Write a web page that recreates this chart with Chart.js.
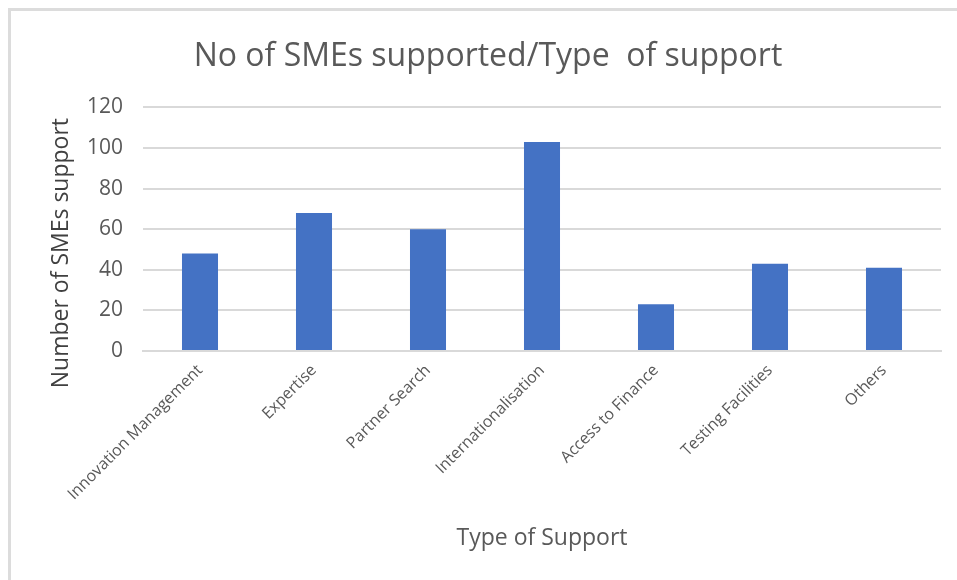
<!DOCTYPE html>
<html><head><meta charset="utf-8">
<script src="https://cdn.jsdelivr.net/npm/chart.js@4/dist/chart.umd.min.js"></script>
<style>
html,body{margin:0;padding:0;background:#fff;}
#wrap{position:relative;width:957px;height:580px;}
#frame{position:absolute;left:8px;top:8px;width:960px;height:600px;border-left:3px solid #dcdcdc;border-top:3px solid #dcdcdc;pointer-events:none;}
canvas{position:absolute;left:0;top:0;}
</style></head>
<body>
<div id="wrap"><canvas id="c" width="957" height="580"></canvas><div id="frame"></div></div>
<script>
const categories = ["Innovation Management","Expertise","Partner Search","Internationalisation","Access to Finance","Testing Facilities","Others"];
const smeCounts = [48, 68, 60, 103, 23, 43, 41];
const yTicks = [0, 20, 40, 60, 80, 100, 120];
const chartTitle = "No of SMEs supported/Type  of support";
const yTitle = "Number of SMEs support";
const xTitle = "Type of Support";

const FONT = "'Open Sans', sans-serif";
const GRAY = "#595959";
new Chart(document.getElementById('c'), {
  type: 'bar',
  data: { labels: categories, datasets: [{ data: smeCounts, backgroundColor: '#4472C4', borderWidth: 0, barPercentage: 0.316, categoryPercentage: 1 }] },
  options: {
    responsive: false, animation: false,
    layout: { padding: { left: 35, right: 16, top: 0, bottom: 0 } },
    plugins: {
      legend: { display: false }, tooltip: { enabled: false },
      title: { display: true, text: chartTitle, color: GRAY, font: { family: FONT, size: 32, weight: 'normal', lineHeight: 1.2 }, padding: { top: 38, bottom: 31 } }
    },
    scales: {
      y: {
        min: 0, max: 120,
        afterBuildTicks: s => { s.ticks = yTicks.map(v => ({ value: v })); },
        afterFit: s => { s.width = 108; },
        border: { display: false },
        grid: { color: '#d9d9d9', lineWidth: 2, drawTicks: false },
        ticks: { color: GRAY, padding: 20, font: { family: FONT, size: 21 } },
        title: { display: true, text: yTitle + "        ", color: '#404040', font: { family: FONT, size: 23 }, padding: { top: 13 } }
      },
      x: {
        afterFit: s => { s.height = 229; },
        border: { display: true, color: '#d9d9d9', width: 2 },
        grid: { display: false, drawTicks: false },
        ticks: { color: GRAY, padding: 10, maxRotation: 45, minRotation: 45, font: { family: FONT, size: 16 } },
        title: { display: true, text: xTitle, color: GRAY, font: { family: FONT, size: 23 }, padding: { bottom: 28 } }
      }
    }
  }
});
</script>
</body></html>
